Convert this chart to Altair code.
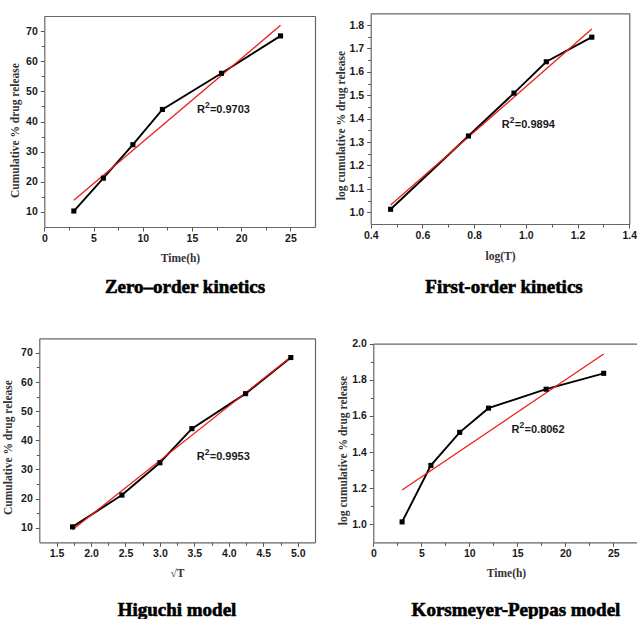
import altair as alt
import pandas as pd

# ---------------- data ----------------
time_h = [3, 6, 9, 12, 18, 24]
cum_release = [10.3, 21.2, 32.3, 44.0, 56.0, 68.4]

log_t = [0.477, 0.778, 0.954, 1.079, 1.255]
log_release_fo = [1.013, 1.326, 1.509, 1.643, 1.748]

sqrt_t = [1.732, 2.449, 3.0, 3.464, 4.243, 4.899]

log_release_kp = [1.013, 1.326, 1.509, 1.643, 1.748, 1.836]

zero_fit_x = [3, 24]
zero_fit_y = [13.9, 71.9]
first_fit_x = [0.477, 1.255]
first_fit_y = [1.031, 1.783]
higuchi_fit_x = [1.732, 4.899]
higuchi_fit_y = [9.3, 68.6]
kp_fit_x = [3, 24]
kp_fit_y = [1.19, 1.943]

r2_values = ["=0.9703", "=0.9894", "=0.9953", "=0.8062"]
captions = ["Zero–order kinetics", "First-order kinetics", "Higuchi model", "Korsmeyer-Peppas model"]

VIEW_W, VIEW_H = 637, 619

LABEL_FONT = "Liberation Sans"
TITLE_FONT = "Liberation Serif"


def panel(xv, yv, fx, fy, xdom, xrng, ydom, yrng, xmajor, xminor, ymajor, yminor,
          xfmt, yfmt, xtitle, ytitle, xtitle_x, xtitle_dy, ytitle_dx, ytitle_y,
          r2_text, r2_x, r2_y, caption, cap_x, cap_y):
    off_bottom = yrng[0] - VIEW_H
    off_left = -xrng[0]
    off_top = -yrng[1]
    off_right = xrng[1] - VIEW_W

    def xs():
        return alt.Scale(domain=xdom, range=xrng, nice=False, zero=False)

    def ys():
        return alt.Scale(domain=ydom, range=yrng, nice=False, zero=False)

    common = dict(grid=False, domainColor="#666666", tickColor="#555555",
                  labelFlush=False, labelOverlap=False)

    major_x = alt.Axis(orient="bottom", offset=off_bottom, values=xmajor, format=xfmt,
                       tickSize=4, domainWidth=1.2, labelFont=LABEL_FONT,
                       labelFontWeight="bold", labelFontSize=10.5, labelColor="#1a1a1a",
                       labelPadding=2, title=xtitle, titleFont=TITLE_FONT,
                       titleFontWeight="bold", titleFontSize=11.5, titleColor="#333333",
                       titleX=xtitle_x, titleY=xtitle_dy, titleBaseline="middle",
                       titleAlign="center", **common)
    major_y = alt.Axis(orient="left", offset=off_left, values=ymajor, format=yfmt,
                       tickSize=4, domainWidth=1.2, labelFont=LABEL_FONT,
                       labelFontWeight="bold", labelFontSize=10.5, labelColor="#1a1a1a",
                       labelPadding=3, title=ytitle, titleFont=TITLE_FONT,
                       titleFontWeight="bold", titleFontSize=11.5, titleColor="#333333",
                       titleX=ytitle_dx, titleY=ytitle_y, titleBaseline="middle",
                       titleAlign="center", titleAngle=270, **common)
    minor_x = alt.Axis(orient="bottom", offset=off_bottom, values=xminor, labels=False,
                       domain=False, tickSize=3, title=None, **common)
    minor_y = alt.Axis(orient="left", offset=off_left, values=yminor, labels=False,
                       domain=False, tickSize=3, title=None, **common)
    top_x = alt.Axis(orient="top", offset=off_top, ticks=False, labels=False,
                     domainWidth=1.2, title=None, **common)
    right_y = alt.Axis(orient="right", offset=off_right, ticks=False, labels=False,
                       domainWidth=1.2, title=None, **common)

    df = pd.DataFrame({"x": xv, "y": yv})
    dfit = pd.DataFrame({"x": fx, "y": fy})
    dr2 = pd.DataFrame({"x": [r2_x], "y": [r2_y]})

    line = alt.Chart(df).mark_line(color="black", strokeWidth=1.9).encode(
        x=alt.X("x:Q", scale=xs(), axis=major_x),
        y=alt.Y("y:Q", scale=ys(), axis=major_y))
    fit = alt.Chart(dfit).mark_line(color="#ee1c1c", strokeWidth=1.3).encode(
        x=alt.X("x:Q", scale=xs(), axis=top_x),
        y=alt.Y("y:Q", scale=ys(), axis=right_y))
    pts = alt.Chart(df).mark_square(size=26, color="black", opacity=1).encode(
        x=alt.X("x:Q", scale=xs(), axis=minor_x),
        y=alt.Y("y:Q", scale=ys(), axis=minor_y))

    tstyle = dict(align="left", baseline="middle", font=LABEL_FONT, fontWeight="bold",
                  color="#1a1a1a")
    enc = dict(x=alt.X("x:Q", scale=xs(), axis=None), y=alt.Y("y:Q", scale=ys(), axis=None))
    t_r = alt.Chart(dr2).mark_text(text="R", fontSize=11, **tstyle).encode(**enc)
    enc2 = dict(x=alt.X("x:Q", scale=xs(), axis=None), y=alt.Y("y:Q", scale=ys(), axis=None))
    t_2 = alt.Chart(dr2).mark_text(text="2", fontSize=8.5, dx=8, dy=-5, **tstyle).encode(**enc2)
    enc3 = dict(x=alt.X("x:Q", scale=xs(), axis=None), y=alt.Y("y:Q", scale=ys(), axis=None))
    t_v = alt.Chart(dr2).mark_text(text=r2_text, fontSize=11, dx=13, **tstyle).encode(**enc3)

    cap = alt.Chart(pd.DataFrame({"t": [caption]})).mark_text(
        font=TITLE_FONT, fontWeight="bold", fontSize=19, align="center",
        baseline="alphabetic", color="black", stroke="black", strokeWidth=0.6).encode(
        x=alt.value(cap_x), y=alt.value(cap_y), text="t:N")

    return [line, fit, pts, t_r, t_2, t_v, cap]


layers = []
layers += panel(time_h, cum_release, zero_fit_x, zero_fit_y,
                [0, 27.5], [44.3, 315], [5, 75], [227, 16],
                [0, 5, 10, 15, 20, 25], [2.5, 7.5, 12.5, 17.5, 22.5],
                [10, 20, 30, 40, 50, 60, 70], [15, 25, 35, 45, 55, 65],
                "d", "d", "Time(h)", "Cumulative % drug release",
                180, 31, -29, 130,
                r2_values[0], 15.5, 43.8, captions[0], 185, 293)
layers += panel(log_t, log_release_fo, first_fit_x, first_fit_y,
                [0.4, 1.4], [370.7, 629.3], [0.95, 1.85], [224, 13.3],
                [0.4, 0.6, 0.8, 1.0, 1.2, 1.4], [0.5, 0.7, 0.9, 1.1, 1.3],
                [1.0, 1.1, 1.2, 1.3, 1.4, 1.5, 1.6, 1.7, 1.8],
                [1.05, 1.15, 1.25, 1.35, 1.45, 1.55, 1.65, 1.75],
                ".1f", ".1f", "log(T)", "log cumulative % drug release",
                500, 32, -29, 125,
                r2_values[1], 0.907, 1.373, captions[1], 504, 293)
layers += panel(sqrt_t, cum_release, higuchi_fit_x, higuchi_fit_y,
                [1.25, 5.25], [39.3, 315], [5, 75], [542.3, 338.3],
                [1.5, 2.0, 2.5, 3.0, 3.5, 4.0, 4.5, 5.0],
                [1.75, 2.25, 2.75, 3.25, 3.75, 4.25, 4.75],
                [10, 20, 30, 40, 50, 60, 70], [15, 25, 35, 45, 55, 65],
                ".1f", "d", "√T", "Cumulative % drug release",
                177, 31, -31, 447,
                r2_values[2], 3.534, 34.4, captions[2], 177, 616)
layers += panel(time_h, log_release_kp, kp_fit_x, kp_fit_y,
                [0, 27.5], [373.3, 637.3], [0.9, 2.0], [542.3, 343.7],
                [0, 5, 10, 15, 20, 25], [2.5, 7.5, 12.5, 17.5, 22.5],
                [1.0, 1.2, 1.4, 1.6, 1.8, 2.0], [1.1, 1.3, 1.5, 1.7, 1.9],
                "d", ".1f", "Time(h)", "log cumulative % drug release",
                506, 31, -30, 450,
                r2_values[3], 14.4, 1.52, captions[3], 516, 616)

chart = alt.layer(*layers).resolve_scale(
    x="independent", y="independent"
).resolve_axis(
    x="independent", y="independent"
).properties(
    width=VIEW_W, height=VIEW_H, padding=0,
    autosize=alt.AutoSizeParams(type="none"),
    background="white"
).configure_view(stroke=None)

chart.save("out.html", embed_options={"renderer": "svg", "actions": False})
